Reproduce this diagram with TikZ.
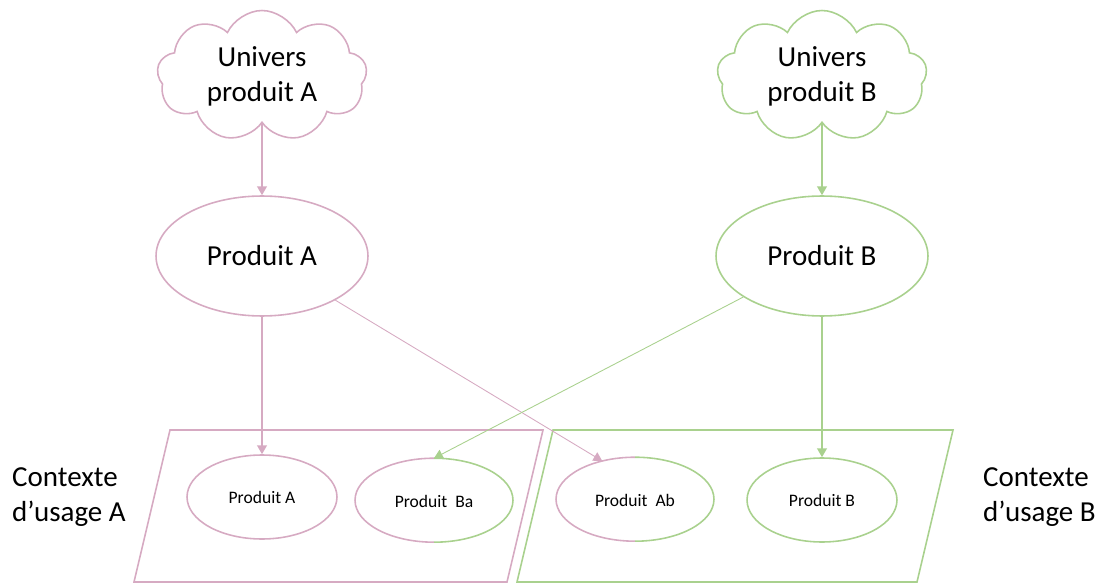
\documentclass[tikz,border=0pt]{standalone}
\usepackage{fontspec}
\setmainfont{Carlito}
\usetikzlibrary{shapes.symbols,shapes.geometric,arrows.meta}
\definecolor{roseA}{RGB}{214,170,194}
\definecolor{vertB}{RGB}{169,209,142}

\begin{document}
\begin{tikzpicture}[x=0.02cm,y=-0.02cm,
	big/.style={font=\fontsize{16.5}{20}\selectfont},
	sml/.style={font=\fontsize{10}{12}\selectfont},
	univers/.style={cloud, cloud puffs=9, cloud puff arc=130, aspect=1.6,
		draw, line width=0.9pt, minimum width=4.2cm, minimum height=2.62cm,
		inner sep=0pt, align=center, big},
	grand/.style={ellipse, draw, line width=0.9pt, minimum width=4.24cm,
		minimum height=2.4cm, big},
	petit/.style={ellipse, line width=0.9pt, minimum width=3cm,
		minimum height=1.68cm, inner sep=0pt, sml},
	fleche/.style={-{Triangle[length=5pt,width=5.5pt]}, line width=0.9pt},
	lien/.style={-{Triangle[length=5pt,width=5.5pt]}, line width=0.5pt}]
	
	\useasboundingbox (0,0) rectangle (1102,584);
	
	%----------------------------
	% Contextes d'usage (parallelograms)
	%----------------------------
	\draw[roseA, line width=0.9pt] (170,430) -- (543,430) -- (507,582) -- (134,582) -- cycle;
	\draw[vertB, line width=0.9pt] (553,430) -- (953,430) -- (917,582) -- (517,582) -- cycle;
	
	\node[big, align=left, anchor=west] (lblA) at (6,497) {Contexte\\d’usage A};
	\node[big, align=left, anchor=west] (lblB) at (977,497) {Contexte\\d’usage B};
	
	%----------------------------
	% Top: univers and produits
	%----------------------------
	\node[univers, draw=roseA] (univA) at (262,76) {Univers\\produit A};
	\node[univers, draw=vertB] (univB) at (822,76) {Univers\\produit B};
	
	\node[grand, draw=roseA] (prodA) at (262,256) {Produit A};
	\node[grand, draw=vertB] (prodB) at (822,256) {Produit B};
	
	%----------------------------
	% Bottom: produits in context
	%----------------------------
	\node[petit, draw=roseA] (usgA) at (262,497) {Produit A};
	\node[petit, minimum width=3.16cm] (usgBa) at (434,501) {Produit\ \ Ba};
	\node[petit, minimum width=3.16cm] (usgAb) at (635,500) {Produit\ \ Ab};
	\node[petit, draw=vertB] (usgB) at (822,500) {Produit B};
	
	% mixed halves (left pink, right green)
	\foreach \n in {usgBa,usgAb}{
		\draw[roseA, line width=0.9pt] (\n.north) arc[start angle=90, end angle=270, x radius=1.58cm, y radius=0.84cm];
		\draw[vertB, line width=0.9pt] (\n.north) arc[start angle=90, end angle=-90, x radius=1.58cm, y radius=0.84cm];
	}
	
	%----------------------------
	% Arrows
	%----------------------------
	\draw[fleche, roseA] (univA) -- (prodA);
	\draw[fleche, vertB] (univB) -- (prodB);
	
	\draw[fleche, roseA] (prodA) -- (usgA);
	\draw[fleche, vertB] (prodB) -- (usgB);
	
	\draw[lien, roseA] (prodA) -- (usgAb.130);
	\draw[lien, vertB] (prodB) -- (usgBa.north);
	
\end{tikzpicture}
\end{document}
